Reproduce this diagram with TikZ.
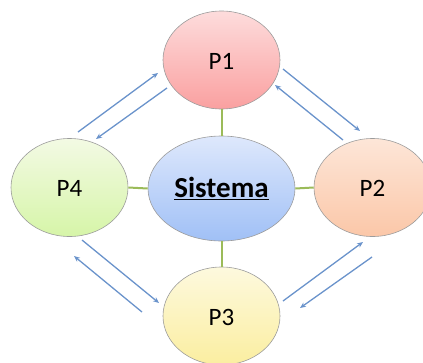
\documentclass[tikz,border=0pt]{standalone}
\usepackage{fontspec}
\setmainfont{Carlito}
\usetikzlibrary{shapes.geometric,arrows.meta,calc}
\definecolor{linkgreen}{HTML}{9BBB59}
\definecolor{flowblue}{HTML}{6A93CB}
\definecolor{rimgray}{HTML}{9C9C9C}
\tikzset{
  bubble/.style={ellipse, draw=rimgray, line width=0.6pt, minimum width=117pt,
    minimum height=98pt, inner sep=0pt},
  plabel/.style={font=\fontsize{25}{29}\selectfont},
  link/.style={draw=linkgreen, line width=2pt},
  flow/.style={draw=flowblue, line width=1.3pt, -{Stealth[length=6pt,width=5pt]}}
}
\begin{document}
\begin{tikzpicture}[x=1pt,y=1pt]
  \useasboundingbox (0,0) rectangle (423,-362);
  \clip (0,0) rectangle (423,-362);
  % the five bubbles
  \node[bubble, top color={rgb,255:red,253;green,220;blue,220}, bottom color={rgb,255:red,250;green,160;blue,160}] (P1) at (221.5,-60) {};
  \node[bubble, top color={rgb,255:red,243;green,250;blue,228}, bottom color={rgb,255:red,214;green,245;blue,168}] (P4) at (69.5,-187.5) {};
  \node[bubble, top color={rgb,255:red,253;green,230;blue,216}, bottom color={rgb,255:red,251;green,199;blue,168}] (P2) at (372.5,-187.5) {};
  \node[bubble, top color={rgb,255:red,253;green,249;blue,222}, bottom color={rgb,255:red,251;green,238;blue,160}] (P3) at (221.5,-316) {};
  \node[bubble, minimum width=147pt, minimum height=105pt, top color={rgb,255:red,222;green,232;blue,252}, bottom color={rgb,255:red,160;green,192;blue,246}] (S) at (221.5,-188.5) {};
  % connecting bars to the central system
  \draw[link] (P1.south) -- (S.north);
  \draw[link] (S.south) -- (P3.north);
  \draw[link] (P4.east) -- (S.west);
  \draw[link] (S.east) -- (P2.west);
  % labels
  \node[plabel] at ($(P1)+(0,-1)$) {P1};
  \node[plabel] at ($(P4)+(0,-1)$) {P4};
  \node[plabel] at ($(P2)+(0,-1)$) {P2};
  \node[plabel] at ($(P3)+(0,-1)$) {P3};
  \node[font=\bfseries\fontsize{29}{33}\selectfont] at ($(S)+(0,0)$) {\underline{Sistema}};
  % exchange arrows between neighbouring bubbles
  \draw[flow] ($(P4)+(8.5,55.5)$) -- ($(P1)+(-63.5,-13)$);
  \draw[flow] ($(P1)+(-54.5,-28)$) -- ($(P4)+(26.5,48.5)$);
  \draw[flow] ($(P1)+(61.5,-9)$) -- ($(P2)+(-12.5,56.5)$);
  \draw[flow] ($(P2)+(-29.5,47.5)$) -- ($(P1)+(53.5,-25)$);
  \draw[flow] ($(P4)+(12.5,-52.5)$) -- ($(P3)+(-62.5,13)$);
  \draw[flow] ($(P3)+(-79.5,4)$) -- ($(P4)+(4.5,-68.5)$);
  \draw[flow] ($(P3)+(61.5,15)$) -- ($(P2)+(-9.5,-54.5)$);
  \draw[flow] ($(P2)+(-0.5,-69.5)$) -- ($(P3)+(78.5,8)$);
\end{tikzpicture}
\end{document}
